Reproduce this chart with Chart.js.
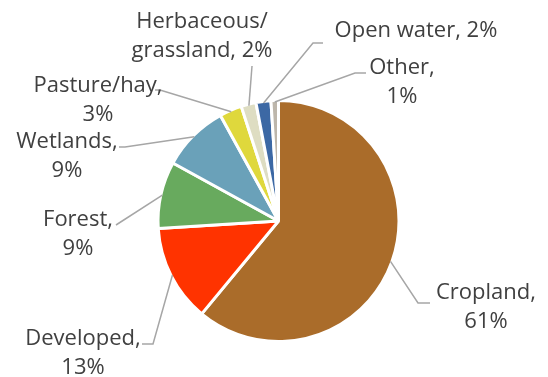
<!DOCTYPE html>
<html>
<head>
<meta charset="utf-8">
<title>Land use</title>
<script src="https://cdn.jsdelivr.net/npm/chart.js@4.4.1/dist/chart.umd.min.js"></script>
<style>
    html, body { margin: 0; padding: 0; background: #fff; }
    #wrap { width: 548px; height: 377px; position: relative; }
</style>
</head>
<body>
<div id="wrap"><canvas id="landChart"></canvas></div>
<script>
// Land use shares, clockwise from 12 o'clock
const categories = ["Cropland", "Developed", "Forest", "Wetlands", "Pasture/hay", "Herbaceous/grassland", "Open water", "Other"];
const shares = [61, 13, 9, 9, 3, 2, 2, 1];
const sliceColors = ["#AA6C2A", "#FF3300", "#68AA5E", "#6AA1B9", "#DFD83C", "#DEDDC2", "#3C68A4", "#BDB6AB"];

// Where each data label sits (text centre x, first baseline y), the bend of
// its leader line and how the text is broken over lines
const labelLayout = [
    { x: 486, y: 299, bend: [418, 303], tail: [430, 303], breakAt: ", " },
    { x: 83,  y: 345, bend: [153, 344], tail: [142, 344], breakAt: ", " },
    { x: 78,  y: 226, bend: [116, 225], tail: null,       breakAt: ", " },
    { x: 67,  y: 148, bend: [125, 147], tail: [119, 147], breakAt: ", " },
    { x: 98,  y: 92,  bend: [160, 90],  tail: [155, 90],  breakAt: ", " },
    { x: 202, y: 28,  bend: [252, 66],  tail: null,       breakAt: "/" },
    { x: 416, y: 37,  bend: [313, 43],  tail: [323, 43],  breakAt: null },
    { x: 402, y: 74,  bend: [355, 73],  tail: [366, 73],  breakAt: ", " }
];

function labelLines(i) {
    const full = categories[i] + ", " + shares[i] + "%";
    const br = labelLayout[i].breakAt;
    if (!br) return [full];
    const k = full.indexOf(br) + br.trim().length;
    return [full.slice(0, k), full.slice(k).trim()];
}

// Leader lines and outside labels
const outsideLabels = {
    id: "outsideLabels",
    afterDatasetsDraw(chart) {
        const ctx = chart.ctx;
        const arcs = chart.getDatasetMeta(0).data;
        ctx.save();
        arcs.forEach((arc, i) => {
            const lay = labelLayout[i];
            const mid = (arc.startAngle + arc.endAngle) / 2;
            const r = arc.outerRadius - 1.5;
            const px = arc.x + Math.cos(mid) * r;
            const py = arc.y + Math.sin(mid) * r;

            ctx.strokeStyle = "#A6A6A6";
            ctx.lineWidth = 1.5;
            ctx.beginPath();
            ctx.moveTo(px, py);
            ctx.lineTo(lay.bend[0], lay.bend[1]);
            if (lay.tail) ctx.lineTo(lay.tail[0], lay.tail[1]);
            ctx.stroke();

            ctx.fillStyle = "#404040";
            ctx.font = "22px 'Open Sans', sans-serif";
            ctx.textAlign = "center";
            ctx.textBaseline = "alphabetic";
            labelLines(i).forEach((line, j) => {
                ctx.fillText(line, lay.x, lay.y + j * 29);
            });
        });
        ctx.restore();
    }
};

new Chart(document.getElementById("landChart"), {
    type: "pie",
    data: {
        labels: categories,
        datasets: [{
            data: shares,
            backgroundColor: sliceColors,
            borderColor: "#FFFFFF",
            borderWidth: 3
        }]
    },
    options: {
        responsive: true,
        maintainAspectRatio: false,
        animation: false,
        layout: { padding: { left: 156.5, right: 147.5, top: 99, bottom: 34 } },
        plugins: {
            legend: { display: false },
            tooltip: { enabled: false }
        }
    },
    plugins: [outsideLabels]
});
</script>
</body>
</html>
